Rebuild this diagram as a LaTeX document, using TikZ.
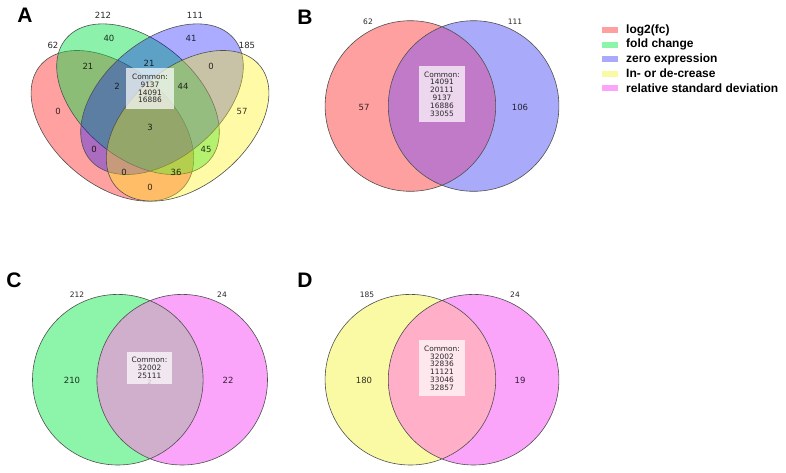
\documentclass[tikz,border=0pt]{standalone}
\usepackage{fontspec}
\setmainfont{DejaVu Sans}
\newfontfamily\arialfont{Liberation Sans}
\usepackage{tikz}

\definecolor{logred}{RGB}{255,160,160}
\definecolor{foldgreen}{RGB}{140,245,170}
\definecolor{zeroblue}{RGB}{170,170,250}
\definecolor{incyellow}{RGB}{250,250,165}
\definecolor{rsdpink}{RGB}{250,165,250}
\definecolor{redblue}{RGB}{192,122,200}
\definecolor{greenpink}{RGB}{208,175,205}
\definecolor{yellowpink}{RGB}{255,175,200}
\definecolor{aGreen}{RGB}{0,225,70}
\definecolor{edgegray}{RGB}{80,80,80}
\definecolor{numgray}{RGB}{40,40,40}

\begin{document}
\begin{tikzpicture}[x=1pt, y=1pt,
    setline/.style={draw=edgegray, line width=0.6pt},
    panel/.style={font=\arialfont\bfseries\fontsize{21}{21}\selectfont, inner sep=0pt},
    setname/.style={font=\fontsize{7.5}{9}\selectfont, text=numgray, inner sep=0pt},
    count/.style={font=\fontsize{8.5}{9}\selectfont, text=black, text opacity=0.8, inner sep=0pt},
    commonbox/.style={fill=white, fill opacity=0.7, text opacity=1, text=numgray,
        align=center, font=\fontsize{7.4}{7.8}\selectfont, inner sep=0pt},
    legtext/.style={font=\arialfont\bfseries\fontsize{12}{12}\selectfont, anchor=west, inner sep=0pt}]

    % Page
    \fill[white] (0,0) rectangle (786,-472);
    \useasboundingbox (0,0) rectangle (786,-472);

    % Panel A: four ellipses
    \foreach \cx/\cy/\ang/\col/\op in {112.4/-125.8/140/red/0.37, 138/-99.2/140/aGreen/0.45,
        162/-99.2/40/blue/0.33, 187.6/-125.8/40/yellow/0.35}
        \draw[setline, fill=\col, fill opacity=\op, rotate around={\ang:(\cx,\cy)}]
            (\cx,\cy) ellipse [x radius=94pt, y radius=58.7pt];

    % Region counts
    \foreach \px/\py/\n [count=\i] in {109/38/40, 191/38/41, 88/66/21, 149/63/21, 211/66/0,
        58/111/0, 242/111/57, 117/86/2, 183/86/44, 150/127/3, 94/149/0, 206/149/45,
        124/172/0, 176/172/36, 150/187/0}
        \node[count] (cntA\i) at (\px,-\py) {\n};

    \node[commonbox, minimum width=48pt, minimum height=41pt] (commonA) at (150,-88.5)
        {Common:\\9137\\14091\\16886};

    % Set sizes
    \node[setname, font=\fontsize{8.5}{9}\selectfont] (nameA1) at (53,-45) {62};
    \node[setname, font=\fontsize{8.5}{9}\selectfont] (nameA2) at (103,-15) {212};
    \node[setname, font=\fontsize{8.5}{9}\selectfont] (nameA3) at (195,-15) {111};
    \node[setname, font=\fontsize{8.5}{9}\selectfont] (nameA4) at (247,-45) {185};

    % Panels B, C, D: two circles each
    \foreach \cx/\cy/\dx/\cl/\cr/\cm in {410.4/-106/63.2/logred/zeroblue/redblue,
        117.8/-379.7/64.4/foldgreen/rsdpink/greenpink,
        410.4/-379.7/63.2/incyellow/rsdpink/yellowpink} {
        \fill[\cl] (\cx,\cy) circle [radius=85.3pt];
        \fill[\cr] (\cx+\dx,\cy) circle [radius=85.3pt];
        \begin{scope}
            \clip (\cx,\cy) circle [radius=85.3pt];
            \fill[\cm] (\cx+\dx,\cy) circle [radius=85.3pt];
        \end{scope}
        \draw[setline] (\cx,\cy) circle [radius=85.3pt] (\cx+\dx,\cy) circle [radius=85.3pt];
    }

    % B labels
    \node[setname] (nameB1) at (368,-22) {62};
    \node[setname] (nameB2) at (515,-22) {111};
    \node[count] (cntB1) at (364,-107) {57};
    \node[count] (cntB2) at (520,-107) {106};
    \node[commonbox, minimum width=46pt, minimum height=56pt] (commonB) at (442,-94)
        {Common:\\14091\\20111\\9137\\16886\\33055};

    % C labels
    \node[setname] (nameC1) at (77,-295) {212};
    \node[setname] (nameC2) at (222,-295) {24};
    \node[count] (cntC1) at (72,-380) {210};
    \node[count] (cntC2) at (228,-380) {22};
    \node[count, font=\fontsize{6}{7}\selectfont] (cntC3) at (149.5,-382) {2};
    \node[commonbox, minimum width=45pt, minimum height=32pt] (commonC) at (149.5,-368)
        {Common:\\32002\\25111};

    % D labels
    \node[setname] (nameD1) at (367,-295) {185};
    \node[setname] (nameD2) at (515,-295) {24};
    \node[count] (cntD1) at (364,-380) {180};
    \node[count] (cntD2) at (520,-380) {19};
    \node[commonbox, minimum width=46pt, minimum height=56pt] (commonD) at (442,-368)
        {Common:\\32002\\32836\\11121\\33046\\32857};

    % Panel letters
    \node[panel] (letA) at (25,-15) {A};
    \node[panel] (letB) at (305,-17) {B};
    \node[panel] (letC) at (14,-280) {C};
    \node[panel] (letD) at (305,-280) {D};

    % Legend
    \foreach \col/\txt [count=\i] in {logred/log2(fc), foldgreen/fold change,
        zeroblue/zero expression, incyellow/In- or de-crease, rsdpink/relative standard deviation} {
        \fill[\col] (602,{-27.3-14.4*(\i-1)}) rectangle ++(16,-6);
        \node[legtext] (leg\i) at (626,{-30.3-14.4*(\i-1)}) {\txt};
    }

\end{tikzpicture}
\end{document}
